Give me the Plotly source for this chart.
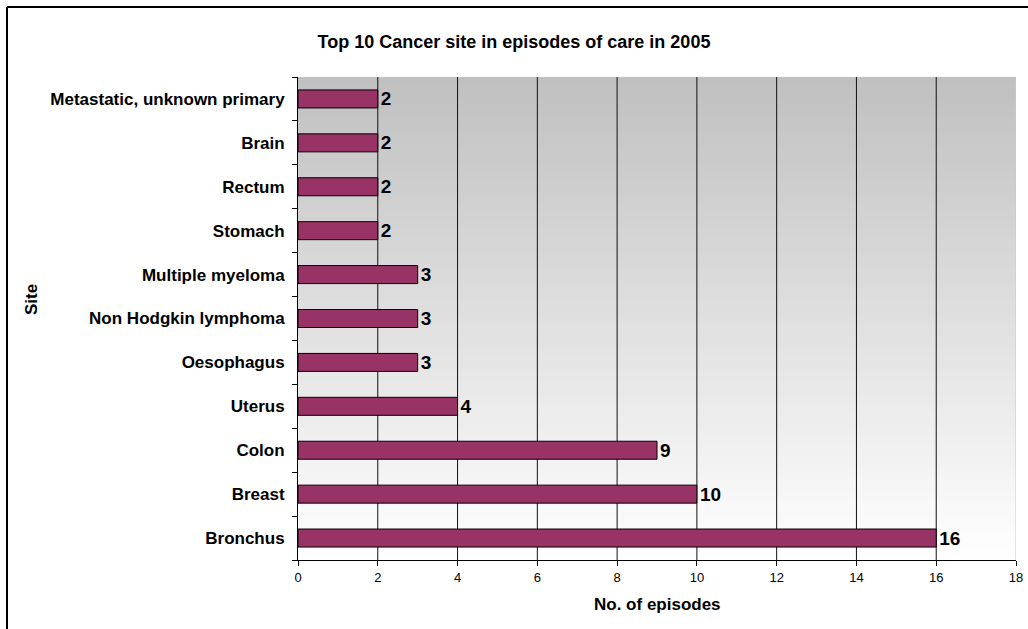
import plotly.graph_objects as go

# Top 10 cancer sites, bottom to top
sites = [
    "Bronchus", "Breast", "Colon", "Uterus", "Oesophagus",
    "Non Hodgkin lymphoma", "Multiple myeloma", "Stomach",
    "Rectum", "Brain", "Metastatic, unknown primary",
]
episodes = [16, 10, 9, 4, 3, 3, 3, 2, 2, 2, 2]
x_ticks = [0, 2, 4, 6, 8, 10, 12, 14, 16, 18]

FONT = "Liberation Sans, Arial, sans-serif"
BAR_COLOR = "#993366"

W, H = 1028, 629
M_L, M_R, M_T, M_B = 298, 12, 77, 69
PW, PH = W - M_L - M_R, H - M_T - M_B


def px_x(px):
    """Page x pixel -> paper coordinate."""
    return (px - M_L) / PW


def px_y(py):
    """Page y pixel (from top) -> paper coordinate."""
    return (H - M_B - py) / PH


fig = go.Figure()
fig.add_trace(go.Bar(
    y=sites,
    x=episodes,
    orientation="h",
    width=0.41,
    marker=dict(color=BAR_COLOR, line=dict(color="black", width=1)),
    text=episodes,
    texttemplate="<b>%{text}</b>",
    textposition="outside",
    constraintext="none",
    textfont=dict(family=FONT, size=19, color="black"),
    cliponaxis=False,
    hoverinfo="skip",
))

shapes = []
# vertical gradient backdrop: grey at the top fading to white at the bottom
n_bands = 80
top_rgb = (192, 192, 192)
for i in range(n_bands):
    t = i / (n_bands - 1)
    c = tuple(round(255 + (tc - 255) * t) for tc in top_rgb)
    shapes.append(dict(
        type="rect", xref="x domain", yref="y domain",
        x0=0, x1=1, y0=i / n_bands, y1=min(1.0, (i + 2) / n_bands),
        fillcolor="rgb(%d,%d,%d)" % c, line=dict(width=0), layer="below",
    ))
# gridlines behind the bars
for v in x_ticks[1:-1]:
    shapes.append(dict(
        type="line", xref="x", yref="y domain", x0=v, x1=v, y0=0, y1=1,
        line=dict(color="#111111", width=1), layer="below",
    ))
# light right edge of the plot area
shapes.append(dict(
    type="line", xref="x", yref="y domain", x0=x_ticks[-1], x1=x_ticks[-1], y0=0, y1=1,
    line=dict(color="#c8c8c8", width=1), layer="below",
))
# outer chart frame: left edge and top edge
shapes.append(dict(
    type="line", xref="paper", yref="paper",
    x0=px_x(7), x1=px_x(7), y0=px_y(H), y1=px_y(7),
    line=dict(color="black", width=2), layer="above",
))
shapes.append(dict(
    type="line", xref="paper", yref="paper",
    x0=px_x(7), x1=px_x(W), y0=px_y(7), y1=px_y(7),
    line=dict(color="black", width=2), layer="above",
))

fig.update_layout(
    width=W, height=H,
    margin=dict(l=M_L, r=M_R, t=M_T, b=M_B, autoexpand=False),
    paper_bgcolor="white",
    plot_bgcolor="rgba(0,0,0,0)",
    showlegend=False,
    font=dict(family=FONT, color="black"),
    title=dict(
        text="<b>Top 10 Cancer site in episodes of care in 2005</b>",
        x=0.5, xref="container", xanchor="center",
        y=1 - 42 / H, yanchor="middle",
        font=dict(family=FONT, size=18, color="black"),
    ),
    xaxis=dict(
        range=[0, 18], tickvals=x_ticks, ticktext=[str(v) for v in x_ticks],
        showgrid=False, zeroline=False,
        showline=True, linecolor="black", linewidth=1,
        ticks="outside", ticklen=5, tickcolor="black",
        tickfont=dict(family=FONT, size=13, color="black"),
        fixedrange=True,
    ),
    yaxis=dict(
        type="category", categoryorder="array", categoryarray=sites,
        showgrid=False, zeroline=False,
        showline=True, linecolor="black", linewidth=1,
        ticks="outside", ticklen=5, tickcolor="black", tickson="boundaries",
        ticklabelstandoff=9,
        tickfont=dict(family=FONT, size=17, color="black", weight="bold"),
        fixedrange=True,
    ),
    bargap=0.59,
    shapes=shapes,
    annotations=[
        dict(text="<b>No. of episodes</b>", xref="paper", yref="paper",
             x=0.5, y=px_y(604), xanchor="center", yanchor="middle",
             showarrow=False, font=dict(family=FONT, size=17, color="black")),
        dict(text="<b>Site</b>", xref="paper", yref="paper",
             x=px_x(31), y=px_y(300), xanchor="center", yanchor="middle", textangle=-90,
             showarrow=False, font=dict(family=FONT, size=17, color="black")),
    ],
)

fig.write_html("out.html")
